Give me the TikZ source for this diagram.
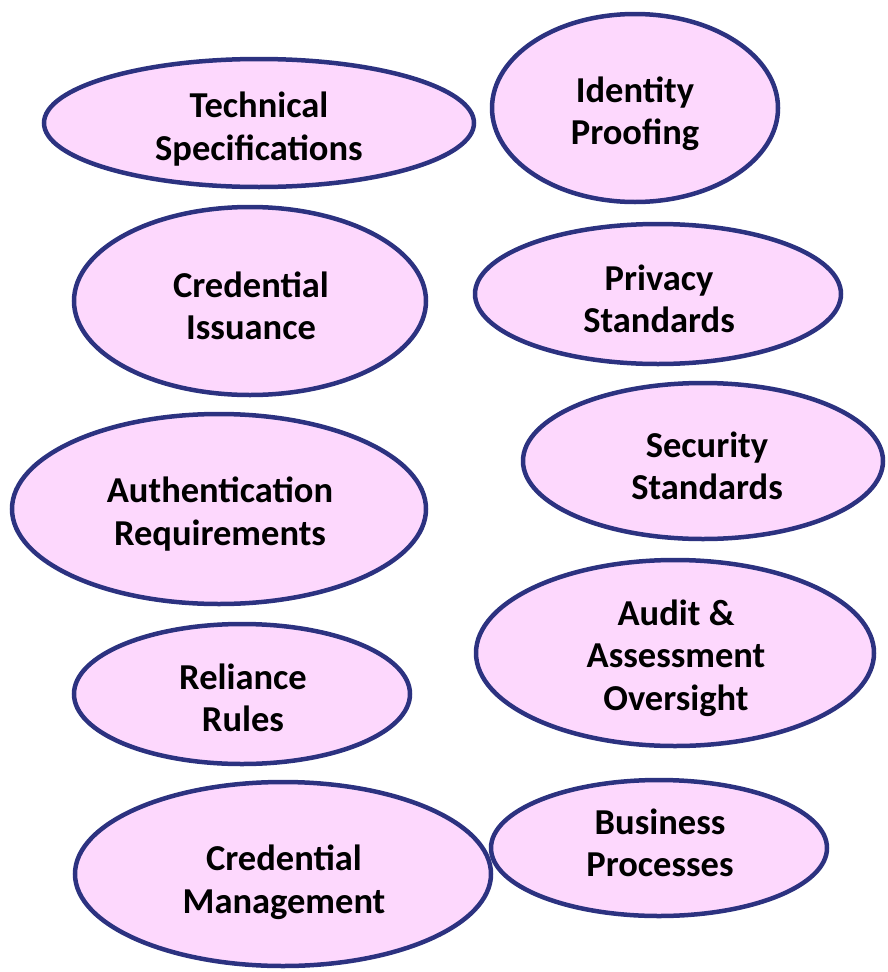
\documentclass[tikz,border=0pt]{standalone}
\usepackage{fontspec}
\setmainfont{Carlito}
\usetikzlibrary{shapes.geometric}
\definecolor{ovalfill}{RGB}{253,216,253}
\definecolor{ovalline}{RGB}{44,50,128}
\tikzset{
  oval/.style={ellipse, draw=ovalline, fill=ovalfill, line width=4.5pt, inner sep=0pt},
  lbl/.style={align=center, font=\fontsize{36.5}{42.5}\selectfont\bfseries, text=black, inner sep=0pt}
}
\begin{document}
\begin{tikzpicture}[x=1pt,y=-1pt]
\useasboundingbox (0,0) rectangle (887,972);
\node[oval, minimum width=430pt, minimum height=128pt] (e1) at (259,123) {};
\node[oval, minimum width=286pt, minimum height=188pt] (e2) at (635,108) {};
\node[oval, minimum width=352pt, minimum height=188pt] (e3) at (250,301) {};
\node[oval, minimum width=366pt, minimum height=140pt] (e4) at (658,294) {};
\node[oval, minimum width=414pt, minimum height=190pt] (e5) at (219,509) {};
\node[oval, minimum width=360pt, minimum height=156pt] (e6) at (703,461) {};
\node[oval, minimum width=336pt, minimum height=140pt] (e7) at (242,694) {};
\node[oval, minimum width=398pt, minimum height=186pt] (e8) at (675,653) {};
\node[oval, minimum width=336pt, minimum height=136pt] (e9) at (659,848) {};
\node[oval, minimum width=416pt, minimum height=184pt] (e10) at (283,874) {};
\node[lbl] (t1) at (259,129) {Technical\\Specifications};
\node[lbl] (t2) at (635,114) {Identity\\Proofing};
\node[lbl] (t3) at (251,306) {Credential\\Issuance};
\node[lbl] (t4) at (659,299) {Privacy\\Standards};
\node[lbl] (t5) at (220,514) {Authentication\\Requirements};
\node[lbl] (t6) at (707,466) {Security\\Standards};
\node[lbl] (t7) at (243,698) {Reliance\\Rules};
\node[lbl] (t8) at (676,658) {Audit \&\\Assessment\\Oversight};
\node[lbl] (t9) at (660,843) {Business\\Processes};
\node[lbl] (t10) at (284,882) {Credential\\Management};
\end{tikzpicture}
\end{document}
